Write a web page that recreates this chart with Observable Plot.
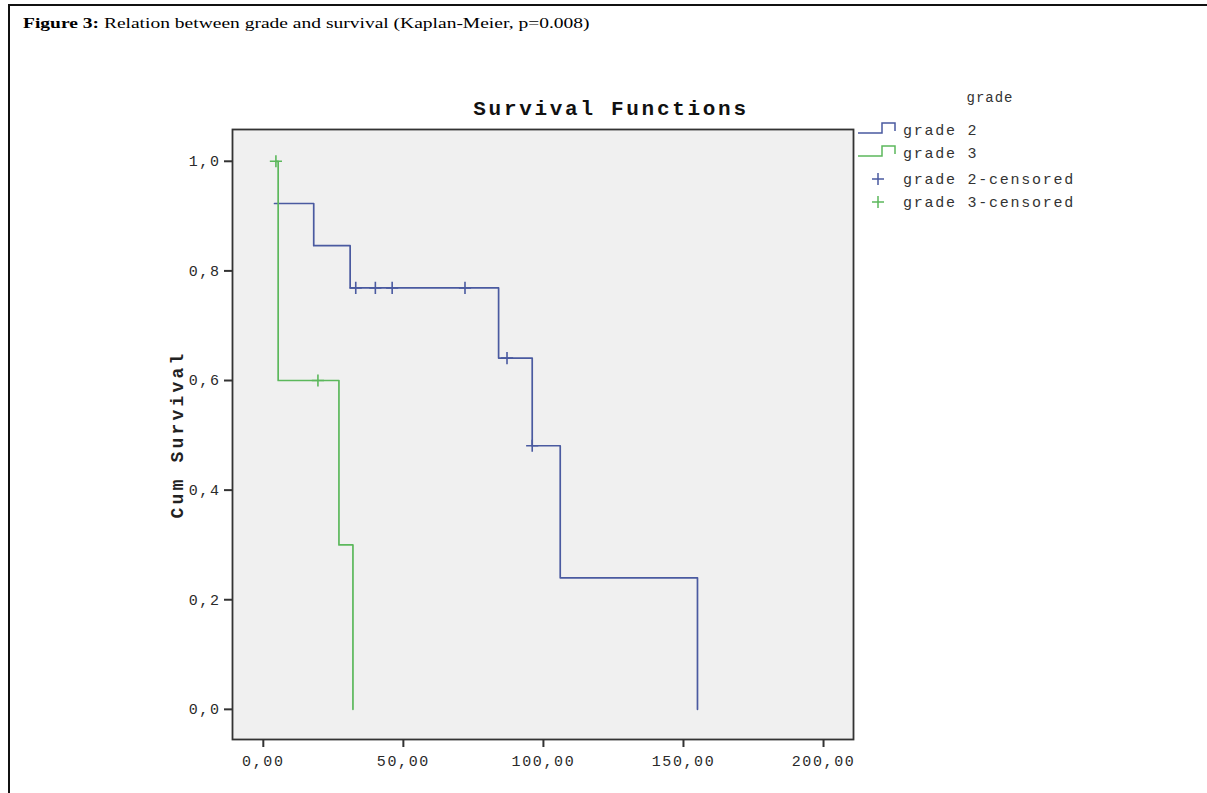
<!DOCTYPE html>
<html>
<head>
<meta charset="utf-8">
<script src="https://cdn.jsdelivr.net/npm/d3@7"></script>
<script src="https://cdn.jsdelivr.net/npm/@observablehq/plot@0.6"></script>
<style>
  html, body { margin: 0; padding: 0; background: #fff; width: 1207px; height: 793px; overflow: hidden; }
  #page { position: relative; width: 1207px; height: 793px; overflow: hidden; }
  #frame { position: absolute; left: 8px; top: 4px; width: 1400px; height: 1000px; border-left: 2px solid #111; border-top: 2px solid #111; }
  #fig { position: absolute; left: 23px; top: 15px; font-family: "Liberation Serif", "Times New Roman", serif; font-size: 15px; color: #000; white-space: nowrap; transform: scaleX(1.3); transform-origin: 0 0; }
  #chart { position: absolute; left: 0; top: 0; }
  #legend { position: absolute; left: 850px; top: 80px; }
</style>
</head>
<body>
<div id="page">
  <div id="frame"></div>
  <div id="fig"><b>Figure 3:</b> Relation between grade and survival (Kaplan-Meier, p=0.008)</div>
  <div id="chart"></div>
  <svg id="legend" width="300" height="140" font-family="Liberation Mono, monospace" font-size="15" fill="#333">
  </svg>
</div>
<script>
// ---- data ----
const grade2Time = [4, 18, 31, 84, 96, 106, 155];
const grade2Surv = [0.923, 0.846, 0.769, 0.641, 0.481, 0.240, 0.0];
const grade3Time = [4.5, 5.3, 27, 32];
const grade3Surv = [1.0, 0.6, 0.3, 0.0];
const grade2CensTime = [33, 40, 46, 72, 87, 96];
const grade2CensSurv = [0.769, 0.769, 0.769, 0.769, 0.641, 0.481];
const grade3CensTime = [4.5, 19.5];
const grade3CensSurv = [1.0, 0.6];
const xTicks = [0, 50, 100, 150, 200];
const yTicks = [0, 0.2, 0.4, 0.6, 0.8, 1.0];
const legendLabels = ["grade 2", "grade 3", "grade 2-censored", "grade 3-censored"];
const legendTitle = "grade";
const plotTitle = "Survival Functions";
const yLabel = "Cum Survival";

const blue = "#4a5aa0";
const green = "#5cb85c";

const toRows = (ts, ss, g) => ts.map((t, i) => ({t, s: ss[i], g}));
const curves = [...toRows(grade2Time, grade2Surv, "grade 2"), ...toRows(grade3Time, grade3Surv, "grade 3")];
const cens = [...toRows(grade2CensTime, grade2CensSurv, "grade 2"), ...toRows(grade3CensTime, grade3CensSurv, "grade 3")];
const colorOf = g => g === "grade 2" ? blue : green;

const chart = Plot.plot({
  width: 1207,
  height: 793,
  marginLeft: 232,
  marginRight: 354,
  marginTop: 129,
  marginBottom: 54,
  style: { fontFamily: "Liberation Mono, monospace", fontSize: "15px", background: "transparent", color: "#333", letterSpacing: "1.6px" },
  x: { domain: [-11, 210.7] },
  y: { domain: [-0.055, 1.058] },
  marks: [
    Plot.frame({ fill: "#f0f0f0", stroke: "none" }),
    Plot.line(curves, { x: "t", y: "s", z: "g", stroke: d => colorOf(d.g), curve: "step-after", strokeWidth: 1.7 }),
    Plot.dot(cens, { x: "t", y: "s", symbol: "plus", r: 4, stroke: d => colorOf(d.g), strokeWidth: 1.6 }),
    Plot.frame({ stroke: "#333", strokeWidth: 1.8 }),
    Plot.axisY({ ticks: yTicks, tickFormat: d => d.toFixed(1).replace(".", ","), tickSize: 8, tickPadding: 4, strokeWidth: 2, label: null, fill: "#2a2a2a" }),
    Plot.axisX({ ticks: xTicks, tickFormat: d => d.toFixed(2).replace(".", ","), tickSize: 8, tickPadding: 8, strokeWidth: 2, label: null, fill: "#2a2a2a" }),
    Plot.text([yLabel], { frameAnchor: "left", dx: -55, rotate: -90, textAnchor: "middle", fontWeight: "bold", fontSize: 18, fill: "#222" }),
    Plot.text([plotTitle], { frameAnchor: "top", dx: 68, dy: -29, fontWeight: "bold", fontSize: 21, fill: "#111" })
  ]
});
document.getElementById("chart").appendChild(chart);
d3.select(chart).selectAll("text").each(function () {
  const t = this.textContent;
  if (t === plotTitle) this.style.letterSpacing = "2.7px";
  else if (t === yLabel) this.style.letterSpacing = "3.2px";
});

// ---- legend ----
const lg = d3.select("#legend");
lg.append("text").attr("x", 140).attr("y", 22).attr("text-anchor", "middle").attr("letter-spacing", "1px").attr("font-size", 14).text(legendTitle);
const rowY = [50, 73, 99, 122];
[blue, green].forEach((c, i) => {
  const y = rowY[i];
  lg.append("path").attr("d", `M8,${y + 3} H32 V${y - 7} H45 V${y + 1}`).attr("fill", "none").attr("stroke", c).attr("stroke-width", 1.5);
});
[blue, green].forEach((c, i) => {
  const y = rowY[i + 2];
  lg.append("path").attr("d", `M22,${y} H34 M28,${y - 6} V${y + 6}`).attr("fill", "none").attr("stroke", c).attr("stroke-width", 1.5);
});
legendLabels.forEach((t, i) => {
  lg.append("text").attr("x", 53).attr("y", rowY[i] + 5).attr("letter-spacing", "1.75px").text(t);
});
</script>
</body>
</html>
